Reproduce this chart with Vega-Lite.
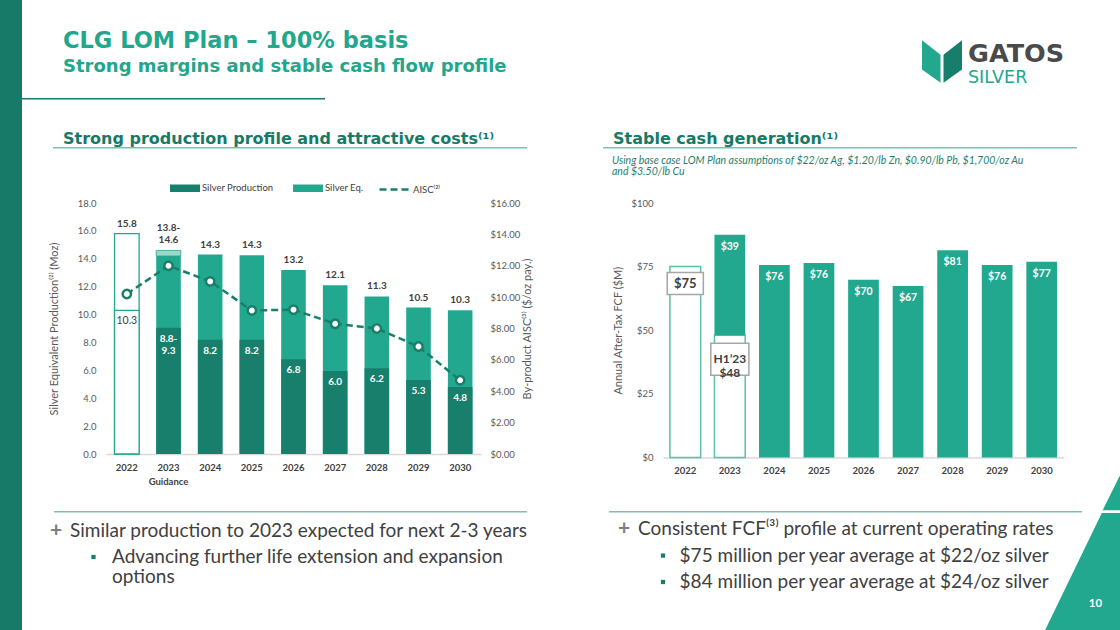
{
  "$schema": "https://vega.github.io/schema/vega-lite/v6.json",
  "background": "white",
  "padding": 0,
  "autosize": {"type": "pad"},
  "spacing": 0,
  "bounds": "flush",
  "config": {
    "font": "Lato",
    "view": {"stroke": null},
    "axis": {
      "labelFont": "Lato", "titleFont": "Lato", "labelColor": "#595959", "labelFontSize": 9.5,
      "ticks": false, "grid": false, "domain": false,
      "titleColor": "#595959", "titleFontSize": 11, "titleFontWeight": "normal"
    },
    "axisX": {"domain": true, "domainColor": "#d9d9d9", "domainWidth": 1.5, "labelFontWeight": "bold", "labelColor": "#404040", "labelPadding": 8, "labelAngle": 0},
    "title": {"font": "Lato", "subtitleFont": "Lato"}
  },
  "datasets": {
    "production": [
      {"year": "2022", "silver": 10.3, "total": 15.8, "totalHigh": 15.8, "aisc": 10.2, "topLabel": "15.8", "topRange": "", "innerLabel": "10.3"},
      {"year": "2023", "silver": 9.05, "total": 14.2, "totalHigh": 14.6, "aisc": 12.0, "topLabel": "14.6", "topRange": "13.8-", "innerLabel": "8.8-\n9.3"},
      {"year": "2024", "silver": 8.2, "total": 14.3, "totalHigh": 14.3, "aisc": 11.0, "topLabel": "14.3", "topRange": "", "innerLabel": "8.2"},
      {"year": "2025", "silver": 8.2, "total": 14.25, "totalHigh": 14.25, "aisc": 9.15, "topLabel": "14.3", "topRange": "", "innerLabel": "8.2"},
      {"year": "2026", "silver": 6.8, "total": 13.2, "totalHigh": 13.2, "aisc": 9.2, "topLabel": "13.2", "topRange": "", "innerLabel": "6.8"},
      {"year": "2027", "silver": 5.95, "total": 12.1, "totalHigh": 12.1, "aisc": 8.3, "topLabel": "12.1", "topRange": "", "innerLabel": "6.0"},
      {"year": "2028", "silver": 6.15, "total": 11.3, "totalHigh": 11.3, "aisc": 8.0, "topLabel": "11.3", "topRange": "", "innerLabel": "6.2"},
      {"year": "2029", "silver": 5.3, "total": 10.5, "totalHigh": 10.5, "aisc": 6.85, "topLabel": "10.5", "topRange": "", "innerLabel": "5.3"},
      {"year": "2030", "silver": 4.8, "total": 10.3, "totalHigh": 10.3, "aisc": 4.7, "topLabel": "10.3", "topRange": "", "innerLabel": "4.8"}
    ],
    "fcf": [
      {"year": "2022", "start": 0, "end": 75, "period": "actual", "label": "$75"},
      {"year": "2023", "start": 0, "end": 48, "period": "actual", "label": "H1’23\n$48"},
      {"year": "2023", "start": 48, "end": 87.5, "period": "plan", "label": "$39"},
      {"year": "2024", "start": 0, "end": 75.6, "period": "plan", "label": "$76"},
      {"year": "2025", "start": 0, "end": 76.4, "period": "plan", "label": "$76"},
      {"year": "2026", "start": 0, "end": 69.8, "period": "plan", "label": "$70"},
      {"year": "2027", "start": 0, "end": 67.4, "period": "plan", "label": "$67"},
      {"year": "2028", "start": 0, "end": 81.4, "period": "plan", "label": "$81"},
      {"year": "2029", "start": 0, "end": 75.6, "period": "plan", "label": "$76"},
      {"year": "2030", "start": 0, "end": 76.9, "period": "plan", "label": "$77"}
    ],
    "bullets": [
      {"side": "left", "line": 1, "level": 1, "text": "Similar production to 2023 expected for next 2-3 years"},
      {"side": "left", "line": 2, "level": 2, "text": "Advancing further life extension and expansion\noptions"},
      {"side": "right", "line": 1, "level": 1, "text": "Consistent FCF⁽³⁾ profile at current operating rates"},
      {"side": "right", "line": 2, "level": 2, "text": "$75 million per year average at $22/oz silver"},
      {"side": "right", "line": 3, "level": 2, "text": "$84 million per year average at $24/oz silver"}
    ]
  },
  "hconcat": [
    {"width": 22, "height": 630, "view": {"fill": "#177a68"}, "data": {"values": []}, "mark": {"type": "text"}},
    {
      "spacing": 0,
      "vconcat": [
        {
          "spacing": 0,
          "bounds": "flush",
          "hconcat": [
            {
              "width": 900, "height": 98, "data": {"values": []}, "mark": {"type": "text"},
              "title": {
                "text": "CLG LOM Plan – 100% basis", "subtitle": "Strong margins and stable cash flow profile",
                "anchor": "start", "frame": "group", "offset": -75.5, "dx": 41,
                "font": "DejaVu Sans", "fontSize": 22.5, "fontWeight": "bold", "color": "#22a68c",
                "subtitleFont": "DejaVu Sans", "subtitleFontSize": 18, "subtitleFontWeight": "bold", "subtitleColor": "#22a68c", "subtitlePadding": 5.5
              }
            },
            {
              "width": 40, "height": 98, "data": {"values": [{}]},
              "layer": [
                {"mark": {"type": "point", "shape": "M-0.93,-1L-0.07,-0.32L-0.07,0.98L-0.93,0.36Z", "filled": true, "fill": "#22a88f", "size": 1849, "opacity": 1, "strokeWidth": 0, "yOffset": 12.7}, "encoding": {}},
                {"mark": {"type": "point", "shape": "M0.93,-1L0.07,-0.32L0.07,0.98L0.93,0.36Z", "filled": true, "fill": "#177e6b", "size": 1849, "opacity": 1, "strokeWidth": 0, "yOffset": 12.7}, "encoding": {}}
              ]
            },
            {
              "width": 158, "height": 98, "data": {"values": []}, "mark": {"type": "text"},
              "title": {
                "text": "GATOS", "subtitle": "SILVER", "anchor": "start", "frame": "group", "dx": 6, "offset": -86.5,
                "font": "DejaVu Sans", "fontSize": 25.5, "fontWeight": "bold", "color": "#4a4a4a",
                "subtitleFont": "DejaVu Sans", "subtitleFontSize": 17.5, "subtitleFontWeight": "normal", "subtitleColor": "#22a88f", "subtitlePadding": 1.5
              }
            }
          ]
        },
        {"width": 303, "height": 1.5, "view": {"fill": "#177a68"}, "data": {"values": []}, "mark": {"type": "text"}},
        {"width": 1, "height": 24, "data": {"values": []}, "mark": {"type": "text"}},
        {
          "spacing": 0,
          "bounds": "flush",
          "hconcat": [
            {"width": 31, "height": 1, "data": {"values": []}, "mark": {"type": "text"}},
            {
              "width": 474, "height": 22.5, "data": {"values": []}, "mark": {"type": "text"},
              "title": {"text": "Strong production profile and attractive costs⁽¹⁾", "anchor": "start", "frame": "group", "dx": 10, "offset": -22.5, "font": "DejaVu Sans", "fontSize": 16, "fontWeight": "bold", "color": "#177a66"}
            },
            {"width": 76, "height": 1, "data": {"values": []}, "mark": {"type": "text"}},
            {
              "width": 474, "height": 22.5, "data": {"values": []}, "mark": {"type": "text"},
              "title": {"text": "Stable cash generation⁽¹⁾", "anchor": "start", "frame": "group", "dx": 10, "offset": -22.5, "font": "DejaVu Sans", "fontSize": 16, "fontWeight": "bold", "color": "#177a66"}
            }
          ]
        },
        {
          "spacing": 0,
          "bounds": "flush",
          "hconcat": [
            {"width": 31, "height": 1.5, "data": {"values": []}, "mark": {"type": "text"}},
            {"width": 474, "height": 1.5, "view": {"fill": "#7dbfb3"}, "data": {"values": []}, "mark": {"type": "text"}},
            {"width": 76, "height": 1.5, "data": {"values": []}, "mark": {"type": "text"}},
            {"width": 474, "height": 1.5, "view": {"fill": "#7dbfb3"}, "data": {"values": []}, "mark": {"type": "text"}}
          ]
        },
        {
          "spacing": 0,
          "bounds": "flush",
          "hconcat": [
            {"width": 581, "height": 1, "data": {"values": []}, "mark": {"type": "text"}},
            {
              "width": 474, "height": 30, "data": {"values": []}, "mark": {"type": "text"},
              "title": {
                "text": ["Using base case LOM Plan assumptions of $22/oz Ag, $1.20/lb Zn, $0.90/lb Pb, $1,700/oz Au", "and $3.50/lb Cu"],
                "anchor": "start", "frame": "group", "dx": 9, "offset": -28.8,
                "fontSize": 10.5, "fontStyle": "italic", "fontWeight": "normal", "color": "#1d7f6d", "lineHeight": 11.6
              }
            }
          ]
        },
        {"width": 1, "height": 18.8, "data": {"values": []}, "mark": {"type": "text"}},
        {
          "spacing": 0,
          "bounds": "flush",
          "hconcat": [
            {"width": 84, "height": 1, "data": {"values": []}, "mark": {"type": "text"}},
            {
              "width": 375,
              "height": 251,
              "data": {"name": "production"},
              "encoding": {
                "x": {
                  "field": "year", "type": "ordinal", "scale": {"paddingInner": 0.41},
                  "axis": {"title": null, "labelFontSize": 9.5, "labelLineHeight": 14, "labelExpr": "datum.value === '2023' ? ['2023', 'Guidance'] : datum.value"}
                }
              },
              "layer": [
                {
                  "layer": [
                    {
                      "mark": {"type": "bar", "strokeWidth": 1.3},
                      "encoding": {
                        "y": {"field": "total", "type": "quantitative", "scale": {"domain": [0, 18], "nice": false},
                          "axis": {"title": "Silver Equivalent Production⁽²⁾ (Moz)", "values": [0, 2, 4, 6, 8, 10, 12, 14, 16, 18], "format": ".1f", "labelPadding": 10, "titlePadding": 18}},
                        "color": {
                          "datum": "Silver Eq.",
                          "condition": {"test": "datum.year === '2022'", "value": "white"},
                          "scale": {"domain": ["Silver Production", "Silver Eq."], "range": ["#187f6c", "#22a88f"]},
                          "legend": {
                            "orient": "none", "legendX": 180, "legendY": 183, "direction": "horizontal", "title": null,
                            "symbolSize": 100, "symbolType": "M-3,-0.75L3,-0.75L3,0.75L-3,0.75Z", "symbolStrokeWidth": 0,
                            "labelOffset": 12, "columnPadding": 19, "padding": 0,
                            "labelFontSize": 9.5, "labelColor": "#404040", "labelFont": "Lato"
                          }
                        },
                        "stroke": {"condition": {"test": "datum.year === '2022'", "value": "#22a88f"}, "value": "transparent"}
                      }
                    },
                    {
                      "transform": [{"filter": "datum.totalHigh > datum.total"}],
                      "mark": {"type": "bar", "fill": "#9fd6ca", "stroke": "#22a88f", "strokeWidth": 0.8},
                      "encoding": {
                        "y": {"field": "total", "type": "quantitative", "scale": {"domain": [0, 18], "nice": false},
                          "axis": {"title": "Silver Equivalent Production⁽²⁾ (Moz)", "values": [0, 2, 4, 6, 8, 10, 12, 14, 16, 18], "format": ".1f", "labelPadding": 10, "titlePadding": 18}},
                        "y2": {"field": "totalHigh"}
                      }
                    },
                    {
                      "mark": {"type": "bar", "strokeWidth": 1.3},
                      "encoding": {
                        "y": {"field": "silver", "type": "quantitative", "scale": {"domain": [0, 18], "nice": false},
                          "axis": {"title": "Silver Equivalent Production⁽²⁾ (Moz)", "values": [0, 2, 4, 6, 8, 10, 12, 14, 16, 18], "format": ".1f", "labelPadding": 10, "titlePadding": 18}},
                        "color": {"datum": "Silver Production", "condition": {"test": "datum.year === '2022'", "value": "white"}},
                        "stroke": {"condition": {"test": "datum.year === '2022'", "value": "#22a88f"}, "value": "transparent"}
                      }
                    },
                    {
                      "mark": {"type": "text", "baseline": "bottom", "dy": -5, "fontSize": 10, "fontWeight": "bold", "color": "#404040"},
                      "encoding": {
                        "y": {"field": "totalHigh", "type": "quantitative", "scale": {"domain": [0, 18], "nice": false},
                          "axis": {"title": "Silver Equivalent Production⁽²⁾ (Moz)", "values": [0, 2, 4, 6, 8, 10, 12, 14, 16, 18], "format": ".1f", "labelPadding": 10, "titlePadding": 18}},
                        "text": {"field": "topLabel"}
                      }
                    },
                    {
                      "transform": [{"filter": "datum.topRange !== ''"}],
                      "mark": {"type": "text", "baseline": "bottom", "dy": -17.5, "fontSize": 10, "fontWeight": "bold", "color": "#404040"},
                      "encoding": {
                        "y": {"field": "totalHigh", "type": "quantitative", "scale": {"domain": [0, 18], "nice": false},
                          "axis": {"title": "Silver Equivalent Production⁽²⁾ (Moz)", "values": [0, 2, 4, 6, 8, 10, 12, 14, 16, 18], "format": ".1f", "labelPadding": 10, "titlePadding": 18}},
                        "text": {"field": "topRange"}
                      }
                    },
                    {
                      "transform": [{"filter": "datum.year !== '2022'"}],
                      "mark": {"type": "text", "baseline": "top", "dy": 6, "fontSize": 10, "fontWeight": "bold", "color": "white", "lineBreak": "\n", "lineHeight": 12.5},
                      "encoding": {
                        "y": {"field": "silver", "type": "quantitative", "scale": {"domain": [0, 18], "nice": false},
                          "axis": {"title": "Silver Equivalent Production⁽²⁾ (Moz)", "values": [0, 2, 4, 6, 8, 10, 12, 14, 16, 18], "format": ".1f", "labelPadding": 10, "titlePadding": 18}},
                        "text": {"field": "innerLabel"}
                      }
                    },
                    {
                      "transform": [{"filter": "datum.year === '2022'"}],
                      "mark": {"type": "text", "baseline": "top", "dy": 6, "fontSize": 10.5, "color": "#404040"},
                      "encoding": {
                        "y": {"field": "silver", "type": "quantitative", "scale": {"domain": [0, 18], "nice": false},
                          "axis": {"title": "Silver Equivalent Production⁽²⁾ (Moz)", "values": [0, 2, 4, 6, 8, 10, 12, 14, 16, 18], "format": ".1f", "labelPadding": 10, "titlePadding": 18}},
                        "text": {"field": "innerLabel"}
                      }
                    }
                  ]
                },
                {
                  "layer": [
                    {
                      "mark": {"type": "line", "strokeWidth": 2.5, "color": "#187f6c"},
                      "encoding": {
                        "y": {"field": "aisc", "type": "quantitative", "scale": {"domain": [0, 16], "nice": false},
                          "axis": {"orient": "right", "title": "By-product AISC⁽³⁾ ($/oz pay.)", "titleAngle": 270, "values": [0, 2, 4, 6, 8, 10, 12, 14, 16], "format": "$.2f", "labelPadding": 9, "titlePadding": 13}},
                        "strokeDash": {
                          "datum": "AISC⁽²⁾",
                          "scale": {"domain": ["AISC⁽²⁾"], "range": [[7, 4]]},
                          "legend": {
                            "orient": "none", "legendX": 378, "legendY": 173, "title": null,
                            "symbolType": "stroke", "symbolSize": 900, "symbolStrokeWidth": 2.5, "symbolStrokeColor": "#187f6c",
                            "labelOffset": 2, "padding": 0, "labelFontSize": 9.5, "labelColor": "#404040", "labelFont": "Lato"
                          }
                        }
                      }
                    },
                    {
                      "mark": {"type": "point", "filled": true, "fill": "white", "stroke": "#187f6c", "strokeWidth": 2.5, "size": 70, "opacity": 1},
                      "encoding": {
                        "y": {"field": "aisc", "type": "quantitative", "scale": {"domain": [0, 16], "nice": false},
                          "axis": {"orient": "right", "title": "By-product AISC⁽³⁾ ($/oz pay.)", "titleAngle": 270, "values": [0, 2, 4, 6, 8, 10, 12, 14, 16], "format": "$.2f", "labelPadding": 9, "titlePadding": 13}}
                      }
                    }
                  ]
                }
              ],
              "resolve": {"scale": {"y": "independent"}}
            },
            {"width": 182, "height": 1, "data": {"values": []}, "mark": {"type": "text"}},
            {
              "width": 401,
              "height": 254.4,
              "data": {"name": "fcf"},
              "encoding": {
                "x": {"field": "year", "type": "ordinal", "scale": {"paddingInner": 0.31}, "axis": {"title": null}},
                "y": {"field": "start", "type": "quantitative", "scale": {"domain": [0, 100], "nice": false},
                  "axis": {"title": "Annual After-Tax FCF ($M)", "values": [0, 25, 50, 75, 100], "labelExpr": "'$' + datum.value", "labelPadding": 10, "titlePadding": 7}}
              },
              "layer": [
                {
                  "mark": {"type": "bar", "strokeWidth": 1.5},
                  "encoding": {
                    "y2": {"field": "end"},
                    "fill": {"condition": {"test": "datum.period === 'actual'", "value": "white"}, "value": "#22a88f"},
                    "stroke": {"condition": {"test": "datum.period === 'actual'", "value": "#5cbfaa"}, "value": "transparent"}
                  }
                },
                {
                  "transform": [{"filter": "datum.period === 'plan'"}],
                  "mark": {"type": "text", "baseline": "middle", "dy": 12, "fontSize": 10.5, "fontWeight": "bold", "color": "white"},
                  "encoding": {
                    "y": {"field": "end", "type": "quantitative", "scale": {"domain": [0, 100], "nice": false},
                      "axis": {"title": "Annual After-Tax FCF ($M)", "values": [0, 25, 50, 75, 100], "labelExpr": "'$' + datum.value", "labelPadding": 10, "titlePadding": 7}},
                    "text": {"field": "label"}
                  }
                },
                {
                  "transform": [{"filter": "datum.period === 'actual' && datum.year === '2022'"}],
                  "encoding": {
                    "y": {"field": "end", "type": "quantitative", "scale": {"domain": [0, 100], "nice": false},
                      "axis": {"title": "Annual After-Tax FCF ($M)", "values": [0, 25, 50, 75, 100], "labelExpr": "'$' + datum.value", "labelPadding": 10, "titlePadding": 7}}
                  },
                  "layer": [
                    {"mark": {"type": "point", "shape": "M-1.64,-1L1.64,-1L1.64,1L-1.64,1Z", "size": 484, "filled": true, "fill": "white", "stroke": "#a6a6a6", "strokeWidth": 1.5, "opacity": 1, "yOffset": 17}},
                    {"mark": {"type": "text", "baseline": "middle", "dy": 17, "fontSize": 13, "fontWeight": "bold", "color": "#404040"}, "encoding": {"text": {"field": "label"}}}
                  ]
                },
                {
                  "transform": [{"filter": "datum.period === 'actual' && datum.year === '2023'"}],
                  "encoding": {
                    "y": {"field": "end", "type": "quantitative", "scale": {"domain": [0, 100], "nice": false},
                      "axis": {"title": "Annual After-Tax FCF ($M)", "values": [0, 25, 50, 75, 100], "labelExpr": "'$' + datum.value", "labelPadding": 10, "titlePadding": 7}}
                  },
                  "layer": [
                    {"mark": {"type": "point", "shape": "M-1.19,-1L1.19,-1L1.19,1L-1.19,1Z", "size": 1024, "filled": true, "fill": "white", "stroke": "#a6a6a6", "strokeWidth": 1.5, "opacity": 1, "yOffset": 24}},
                    {"mark": {"type": "text", "baseline": "middle", "dy": 24, "fontSize": 12, "fontWeight": "bold", "color": "#404040", "lineBreak": "\n", "lineHeight": 14}, "encoding": {"text": {"field": "label"}}}
                  ]
                }
              ]
            },
            {
              "width": 56, "height": 1, "data": {"values": [{}]},
              "mark": {"type": "point", "shape": "M27.5,272.7L29,272.7L29,306.7L10.7,306.7Z", "size": 4, "filled": true, "fill": "#22a88f", "opacity": 1, "strokeWidth": 0},
              "encoding": {}
            }
          ]
        },
        {
          "spacing": 0,
          "bounds": "flush",
          "hconcat": [
            {"width": 32, "height": 1.5, "data": {"values": []}, "mark": {"type": "text"}},
            {"width": 473, "height": 1.5, "view": {"fill": "#7dbfb3"}, "data": {"values": []}, "mark": {"type": "text"}},
            {"width": 82, "height": 1.5, "data": {"values": []}, "mark": {"type": "text"}},
            {"width": 473, "height": 1.5, "view": {"fill": "#7dbfb3"}, "data": {"values": []}, "mark": {"type": "text"}}
          ]
        },
        {
          "spacing": 0,
          "bounds": "flush",
          "hconcat": [
            {"width": 28, "height": 1, "data": {"values": []}, "mark": {"type": "text"}},
            {
              "width": 474, "height": 80,
              "data": {"name": "bullets"},
              "transform": [{"filter": "datum.side === 'left'"}],
              "encoding": {
                "x": {"field": "level", "type": "quantitative", "scale": {"domain": [1, 2], "range": [20, 62]}, "axis": null},
                "y": {"field": "line", "type": "quantitative", "scale": {"domain": [1, 3], "range": [23.6, 76.4]}, "axis": null}
              },
              "layer": [
                {"mark": {"type": "text", "align": "left", "baseline": "alphabetic", "fontSize": 19, "color": "#404040", "lineBreak": "\n", "lineHeight": 20}, "encoding": {"text": {"field": "text"}}},
                {"transform": [{"filter": "datum.level === 1"}], "mark": {"type": "text", "text": "+", "align": "center", "baseline": "alphabetic", "dx": -14, "fontSize": 21, "fontWeight": "bold", "color": "#7f7f7f"}},
                {"transform": [{"filter": "datum.level === 2"}], "mark": {"type": "point", "shape": "square", "filled": true, "color": "#177e6b", "size": 18, "opacity": 1, "xOffset": -18.5, "yOffset": -6}}
              ]
            },
            {"width": 79, "height": 1, "data": {"values": []}, "mark": {"type": "text"}},
            {
              "width": 474, "height": 118,
              "data": {"name": "bullets"},
              "transform": [{"filter": "datum.side === 'right'"}],
              "encoding": {
                "x": {"field": "level", "type": "quantitative", "scale": {"domain": [1, 2], "range": [35, 76.6]}, "axis": null},
                "y": {"field": "line", "type": "quantitative", "scale": {"domain": [1, 3], "range": [22.2, 75]}, "axis": null}
              },
              "layer": [
                {"mark": {"type": "text", "align": "left", "baseline": "alphabetic", "fontSize": 19, "color": "#404040"}, "encoding": {"text": {"field": "text"}}},
                {"transform": [{"filter": "datum.level === 1"}], "mark": {"type": "text", "text": "+", "align": "center", "baseline": "alphabetic", "dx": -14, "fontSize": 21, "fontWeight": "bold", "color": "#7f7f7f"}},
                {"transform": [{"filter": "datum.level === 2"}], "mark": {"type": "point", "shape": "square", "filled": true, "color": "#177e6b", "size": 18, "opacity": 1, "xOffset": -16.6, "yOffset": -6}}
              ]
            },
            {
              "width": 43, "height": 118,
              "data": {"values": [{"page": "10"}]},
              "layer": [
                {"mark": {"type": "point", "shape": "M3.3,-59L22.5,-59L22.5,60L-54.3,60Z", "size": 4, "filled": true, "fill": "#22a88f", "opacity": 1, "strokeWidth": 0}, "encoding": {}},
                {"mark": {"type": "text", "color": "white", "fontWeight": "bold", "fontSize": 11.5, "dx": -3.1, "dy": 32}, "encoding": {"text": {"field": "page"}}}
              ]
            }
          ]
        }
      ]
    }
  ]
}
